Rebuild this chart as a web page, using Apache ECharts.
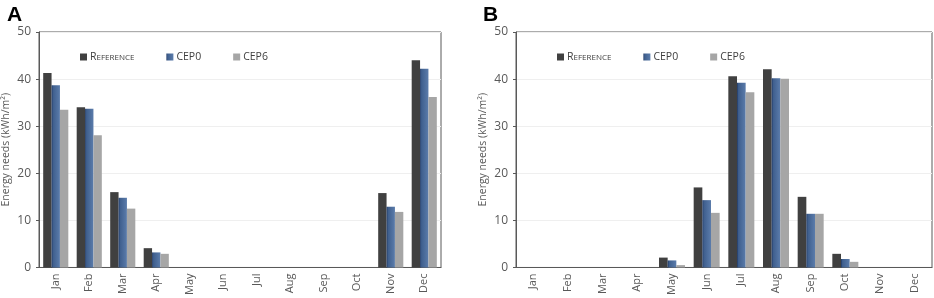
<!DOCTYPE html>
<html>
<head>
<meta charset="utf-8">
<script src="https://cdn.jsdelivr.net/npm/echarts@6/dist/echarts.min.js"></script>
<style>
  html, body { margin: 0; padding: 0; background: #fff; }
  #chart { width: 934px; height: 298px; }
</style>
</head>
<body>
<div id="chart"></div>
<script>
// months on both panels
const months = ['Jan', 'Feb', 'Mar', 'Apr', 'May', 'Jun', 'Jul', 'Aug', 'Sep', 'Oct', 'Nov', 'Dec'];

// panel A (heating)
const refA  = [41.3, 34.0, 16.0, 4.1, 0, 0, 0, 0, 0, 0, 15.8, 44.0];
const cep0A = [38.7, 33.7, 14.8, 3.2, 0, 0, 0, 0, 0, 0, 12.9, 42.2];
const cep6A = [33.5, 28.1, 12.5, 2.9, 0, 0, 0, 0, 0, 0, 11.8, 36.2];

// panel B (cooling)
const refB  = [0, 0, 0, 0, 2.1, 17.0, 40.6, 42.1, 15.0, 2.9, 0, 0];
const cep0B = [0, 0, 0, 0, 1.5, 14.3, 39.2, 40.2, 11.4, 1.8, 0, 0];
const cep6B = [0, 0, 0, 0, 0.5, 11.6, 37.2, 40.1, 11.4, 1.2, 0, 0];

const yTicks = {min: 0, max: 50, interval: 10};

const myChart = echarts.init(document.getElementById('chart'));

const txt = '#595959';
const darkCol = '#404040';
const blueCol = new echarts.graphic.LinearGradient(0, 0, 1, 0, [
    {offset: 0, color: '#1f3864'},
    {offset: 0.18, color: '#3f5f8e'},
    {offset: 1, color: '#5b7cab'}
]);
const grayCol = '#a6a6a6';

function xAx(idx) {
    return {
        type: 'category', gridIndex: idx, data: months,
        axisLine: {lineStyle: {color: txt, width: 1}},
        axisTick: {show: false},
        axisLabel: {rotate: 90, color: txt, fontSize: 11, margin: 6, fontFamily: 'Open Sans'}
    };
}
function yAx(idx) {
    return {
        type: 'value', gridIndex: idx, min: yTicks.min, max: yTicks.max, interval: yTicks.interval,
        name: 'Energy needs (kWh/m²)', nameLocation: 'middle', nameGap: 27,
        nameTextStyle: {color: txt, fontSize: 10.5, fontFamily: 'Open Sans'},
        axisLine: {show: true, lineStyle: {color: txt, width: 1}},
        axisTick: {show: true, length: 3, lineStyle: {color: txt}},
        axisLabel: {color: txt, fontSize: 12, margin: 8, fontFamily: 'Open Sans'},
        splitLine: {lineStyle: {color: '#efefef'}}
    };
}
function bar(name, idx, data, color) {
    return {
        name: name, type: 'bar', xAxisIndex: idx, yAxisIndex: idx, data: data,
        itemStyle: {color: color}, barGap: '0%', barCategoryGap: '25%'
    };
}
const legendRich = {
    big: {fontSize: 10.5, color: darkCol, fontFamily: 'Open Sans', lineHeight: 12, verticalAlign: 'bottom'},
    small: {fontSize: 8, color: darkCol, fontFamily: 'Open Sans', lineHeight: 12, verticalAlign: 'bottom', padding: [0, 0, 1, 0]}
};
function legendFmt(name) {
    if (name === 'Reference') return '{big|R}{small|EFERENCE}';
    return '{big|' + name + '}';
}
function leg(left) {
    return {
        left: left, top: 52, padding: 0, icon: 'rect', itemWidth: 7, itemHeight: 7, itemGap: 32,
        data: ['Reference', 'CEP0', 'CEP6'], formatter: legendFmt,
        textStyle: {rich: legendRich, padding: [0, 0, 0, -2]}
    };
}

const option = {
    animation: false,
    title: [
        {text: 'A', left: 2, top: 0, textStyle: {fontSize: 21, fontWeight: 'bold', color: '#000', fontFamily: 'Liberation Sans'}},
        {text: 'B', left: 478, top: 0, textStyle: {fontSize: 21, fontWeight: 'bold', color: '#000', fontFamily: 'Liberation Sans'}}
    ],
    legend: [leg(80), leg(557)],
    grid: [
        {left: 39, top: 32, width: 402, height: 237, show: true, borderColor: txt, borderWidth: 1},
        {left: 516, top: 32, width: 416, height: 237, show: true, borderColor: txt, borderWidth: 1}
    ],
    xAxis: [xAx(0), xAx(1)],
    yAxis: [yAx(0), yAx(1)],
    series: [
        bar('Reference', 0, refA, darkCol),
        bar('CEP0', 0, cep0A, blueCol),
        bar('CEP6', 0, cep6A, grayCol),
        bar('Reference', 1, refB, darkCol),
        bar('CEP0', 1, cep0B, blueCol),
        bar('CEP6', 1, cep6B, grayCol)
    ]
};
myChart.setOption(option);
</script>
</body>
</html>
